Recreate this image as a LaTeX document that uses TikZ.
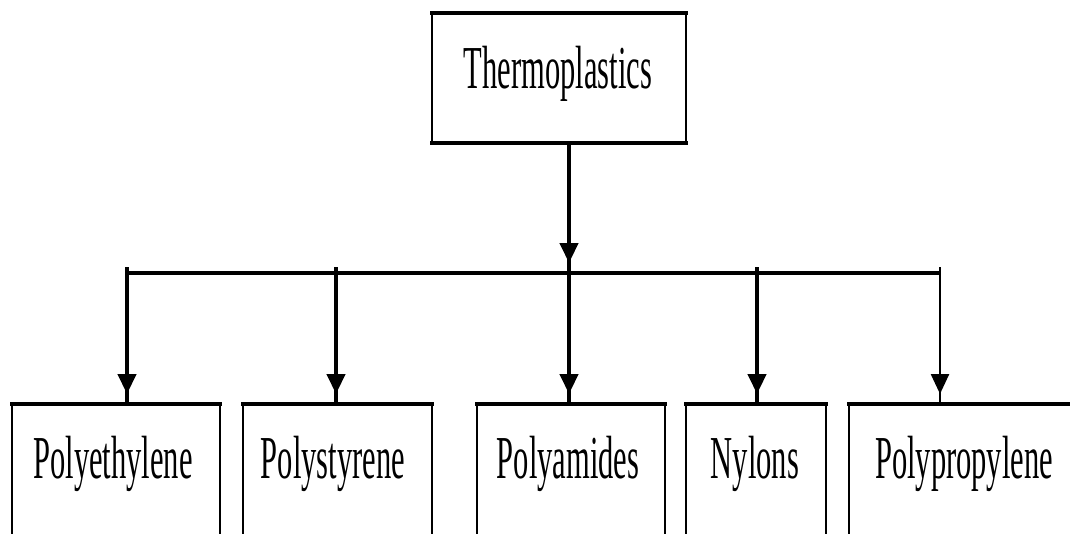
\documentclass[tikz,border=0pt]{standalone}
\usepackage{fontspec}
\newfontfamily\cond[FakeStretch=0.5]{Liberation Serif}
\usetikzlibrary{arrows.meta,decorations.markings}
\begin{document}
\begin{tikzpicture}[x=1pt,y=-1pt,
  frame/.style={draw,line width=2.3pt,inner sep=0pt,outer sep=0pt,anchor=north west},
  heavy/.style={line width=4.5pt,line cap=rect},
  lbl/.style={font=\cond\fontsize{61}{63}\selectfont,inner sep=0pt,anchor=base},
  bus/.style={line width=4.5pt},
  stem/.style={line width=4.5pt},
  thinstem/.style={line width=2.5pt},
  tipped/.style={postaction={decorate},decoration={markings,
      mark=at position -10pt with {\arrow{Triangle[width=18pt,length=20pt]}}}}]
\useasboundingbox (0,0) rectangle (1070,533);
\clip (0,0) rectangle (1070,533);
\fill[white] (0,0) rectangle (1070,533);

% top box
\node[frame,minimum width=254pt,minimum height=130pt] (thermo) at (432,13) {};
\draw[heavy] (thermo.north west) -- (thermo.north east);
\draw[heavy] (thermo.south west) -- (thermo.south east);
\node[lbl] (tthermo) at (558,88) {Thermoplastics};

% bottom boxes
\node[frame,minimum width=208pt,minimum height=200pt] (pe) at (12,404) {};
\node[frame,minimum width=189pt,minimum height=200pt] (ps) at (243,404) {};
\node[frame,minimum width=188pt,minimum height=200pt] (pa) at (477,404) {};
\node[frame,minimum width=140pt,minimum height=200pt] (ny) at (686,404) {};
\node[frame,minimum width=250pt,minimum height=200pt] (pp) at (849,404) {};
\foreach \b in {pe,ps,pa,ny,pp}{\draw[heavy] (\b.north west) -- (\b.north east);}

\node[lbl] (tpe) at (113,478) {Polyethylene};
\node[lbl] (tps) at (333,478) {Polystyrene};
\node[lbl] (tpa) at (568,478) {Polyamides};
\node[lbl] (tny) at (755,478) {Nylons};
\node[lbl] (tpp) at (964,478) {Polypropylene};

% connectors
\coordinate (hub) at (569,273);
\coordinate (j1) at (127,267);
\coordinate (j2) at (336,267);
\coordinate (j3) at (569,273);
\coordinate (j4) at (757,267);
\coordinate (j5) at (940,267);

\draw[bus] (j1 |- hub) -- (j5 |- hub);
\draw[stem,tipped] (thermo.south -| hub) -- (hub);
\draw[stem,tipped] (j1) -- (j1 |- pe.north);
\draw[stem,tipped] (j2) -- (j2 |- ps.north);
\draw[stem,tipped] (j3) -- (j3 |- pa.north);
\draw[stem,tipped] (j4) -- (j4 |- ny.north);
\draw[thinstem,tipped] (j5) -- (j5 |- pp.north);
\end{tikzpicture}
\end{document}
